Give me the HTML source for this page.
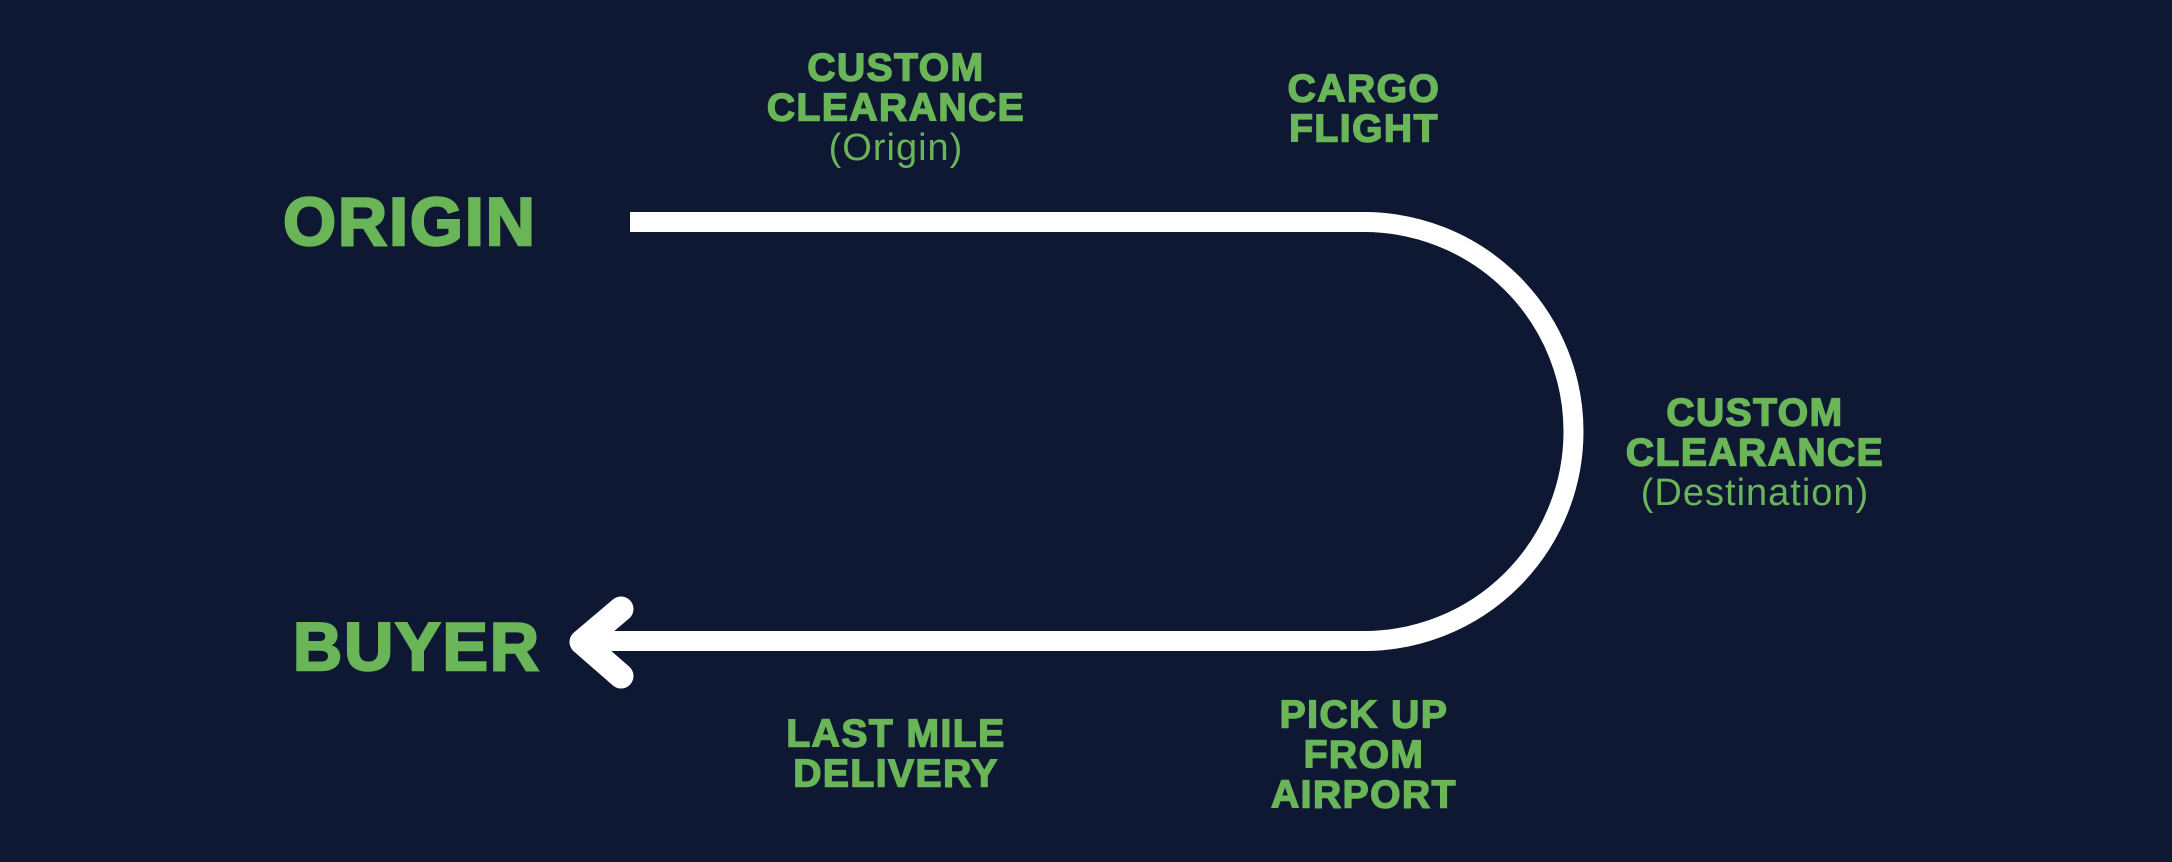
<!DOCTYPE html>
<html><head><meta charset="utf-8"><style>
html,body{margin:0;padding:0;background:#0e1833;}
svg{display:block}
text{font-family:"Liberation Sans",sans-serif;font-weight:bold;fill:#6ab557;text-anchor:middle;dominant-baseline:central;}
.s{font-size:39px;letter-spacing:1.5px;stroke:#6ab557;stroke-width:1.5px}
.n{font-weight:normal;font-size:38px;letter-spacing:1px}
.b{font-size:68px;letter-spacing:2px;stroke:#6ab557;stroke-width:2.5px}
</style></head><body>
<svg width="2172" height="862" viewBox="0 0 2172 862" xmlns="http://www.w3.org/2000/svg">
<rect width="2172" height="862" fill="#0e1833"/>
<path d="M630 222 H1364 A209.5 209.5 0 0 1 1364 641 H584" fill="none" stroke="#fff" stroke-width="20"/>
<path d="M621 609 L582 642 L621 676" fill="none" stroke="#fff" stroke-width="25" stroke-linecap="round" stroke-linejoin="round"/>
<text class="b" x="410" y="222">ORIGIN</text>
<text class="b" x="417" y="647">BUYER</text>
<text class="s" x="896" y="68">CUSTOM</text>
<text class="s" x="896" y="108">CLEARANCE</text>
<text class="n" x="896" y="148">(Origin)</text>
<text class="s" x="1364" y="89">CARGO</text>
<text class="s" x="1364" y="129">FLIGHT</text>
<text class="s" x="1755" y="413">CUSTOM</text>
<text class="s" x="1755" y="453">CLEARANCE</text>
<text class="n" x="1755" y="493">(Destination)</text>
<text class="s" x="896" y="734">LAST MILE</text>
<text class="s" x="896" y="774">DELIVERY</text>
<text class="s" x="1364" y="715">PICK UP</text>
<text class="s" x="1364" y="755">FROM</text>
<text class="s" x="1364" y="795">AIRPORT</text>
</svg>
</body></html>
